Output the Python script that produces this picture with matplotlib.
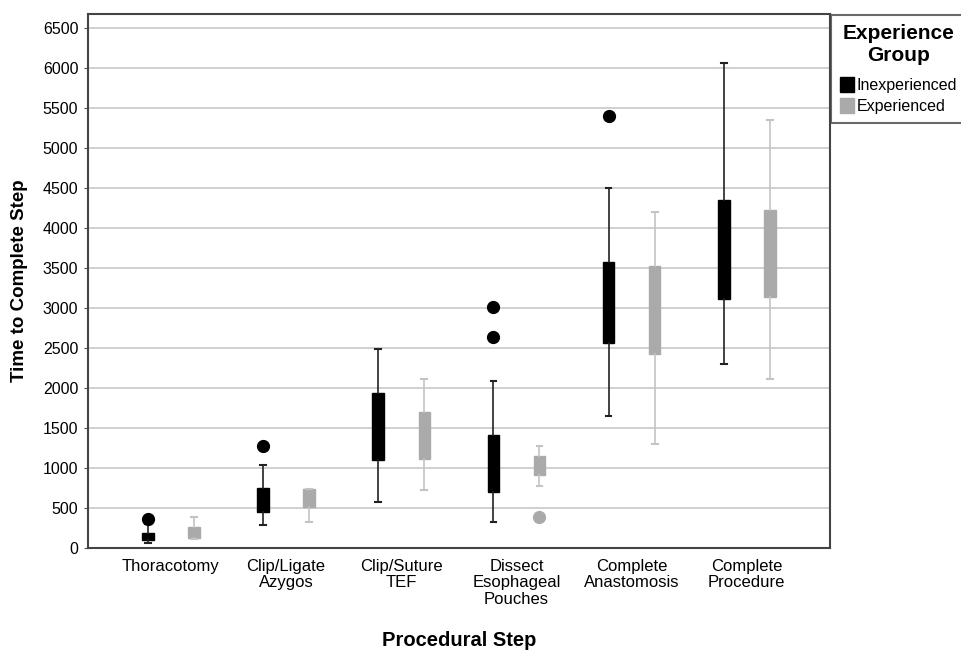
import matplotlib.pyplot as plt
import numpy as np
from matplotlib.patches import Patch

plt.rcParams['font.family'] = ['Liberation Sans', 'DejaVu Sans']

steps = ['Thoracotomy', 'Clip/Ligate\nAzygos', 'Clip/Suture\nTEF',
         'Dissect\nEsophageal\nPouches', 'Complete\nAnastomosis', 'Complete\nProcedure']

# inexperienced group: five-number summaries + outliers
inexp_lo = [62, 287, 575, 325, 1650, 2300]
inexp_q1 = [100, 450, 1100, 700, 2562, 3112]
inexp_med = [150, 600, 1550, 1000, 3100, 3762]
inexp_q3 = [187, 750, 1937, 1412, 3575, 4350]
inexp_hi = [300, 1040, 2487, 2087, 4500, 6062]
inexp_out = [[362], [1275], [], [2637, 3012], [5400], []]

# experienced group
exp_lo = [112, 325, 725, 775, 1300, 2112]
exp_q1 = [125, 512, 1112, 912, 2425, 3137]
exp_med = [200, 650, 1400, 1000, 3000, 3800]
exp_q3 = [262, 737, 1700, 1150, 3525, 4225]
exp_hi = [387, 737, 2112, 1275, 4200, 5350]
exp_out = [[], [], [], [387], [], []]

def make_stats(lo, q1, med, q3, hi, out):
    return [dict(whislo=a, q1=b, med=c, q3=d, whishi=e, fliers=f)
            for a, b, c, d, e, f in zip(lo, q1, med, q3, hi, out)]

fig = plt.figure(figsize=(9.62, 6.51), dpi=100)
ax = fig.add_axes([0.0915, 0.158, 0.771, 0.8205])

x = np.arange(len(steps))
groups = [
    (make_stats(inexp_lo, inexp_q1, inexp_med, inexp_q3, inexp_hi, inexp_out), -0.2, 'black', '#222222'),
    (make_stats(exp_lo, exp_q1, exp_med, exp_q3, exp_hi, exp_out), 0.2, '#aaaaaa', '#c4c4c4'),
]
for stats, off, col, wcol in groups:
    ax.bxp(stats, positions=x + off, widths=0.1, patch_artist=True,
           boxprops=dict(facecolor=col, edgecolor=col, linewidth=1),
           medianprops=dict(color=col, linewidth=1),
           whiskerprops=dict(color=wcol, linewidth=1.2),
           capprops=dict(color=wcol, linewidth=1.5),
           capwidths=0.05,
           flierprops=dict(marker='o', markerfacecolor=col, markeredgecolor=col, markersize=8.5),
           manage_ticks=False, zorder=3)

ax.set_xlim(-0.72, 5.72)
ax.set_ylim(0, 6675)
ax.set_yticks(np.arange(0, 6501, 500))
ax.set_xticks(x)
ax.set_xticklabels(steps, fontsize=12, linespacing=1.1)
ax.tick_params(axis='y', labelsize=11.5, length=3, pad=4, color='#555555')
ax.tick_params(axis='x', length=0, pad=8)
ax.yaxis.grid(True, color='#c8c8c8', linewidth=1.2, zorder=0)
ax.set_axisbelow(True)
for s in ax.spines.values():
    s.set_color('#444444')
    s.set_linewidth(1.5)

ax.set_ylabel('Time to Complete Step', fontsize=13.5, fontweight='bold')
ax.yaxis.set_label_coords(-0.081, 0.5)
ax.set_xlabel('Procedural Step', fontsize=14.5, fontweight='bold')
ax.xaxis.set_label_coords(0.5, -0.156)

handles = [Patch(facecolor='black', edgecolor='black', label='Inexperienced'),
           Patch(facecolor='#aaaaaa', edgecolor='#aaaaaa', label='Experienced')]
leg = fig.legend(handles=handles, title='Experience\nGroup', loc='upper left',
                 bbox_to_anchor=(0.864, 0.977), frameon=True, fontsize=11.5,
                 title_fontproperties=dict(weight='bold', size=15),
                 handlelength=0.85, handleheight=1.05, handletextpad=0.2,
                 borderpad=0.55, labelspacing=0.3, fancybox=False, borderaxespad=0)
leg.get_title().set_multialignment('center')
leg._legend_box.sep = 9
leg.get_frame().set_edgecolor('#444444')
leg.get_frame().set_linewidth(1.5)

fig.savefig('out.png', dpi=100)
